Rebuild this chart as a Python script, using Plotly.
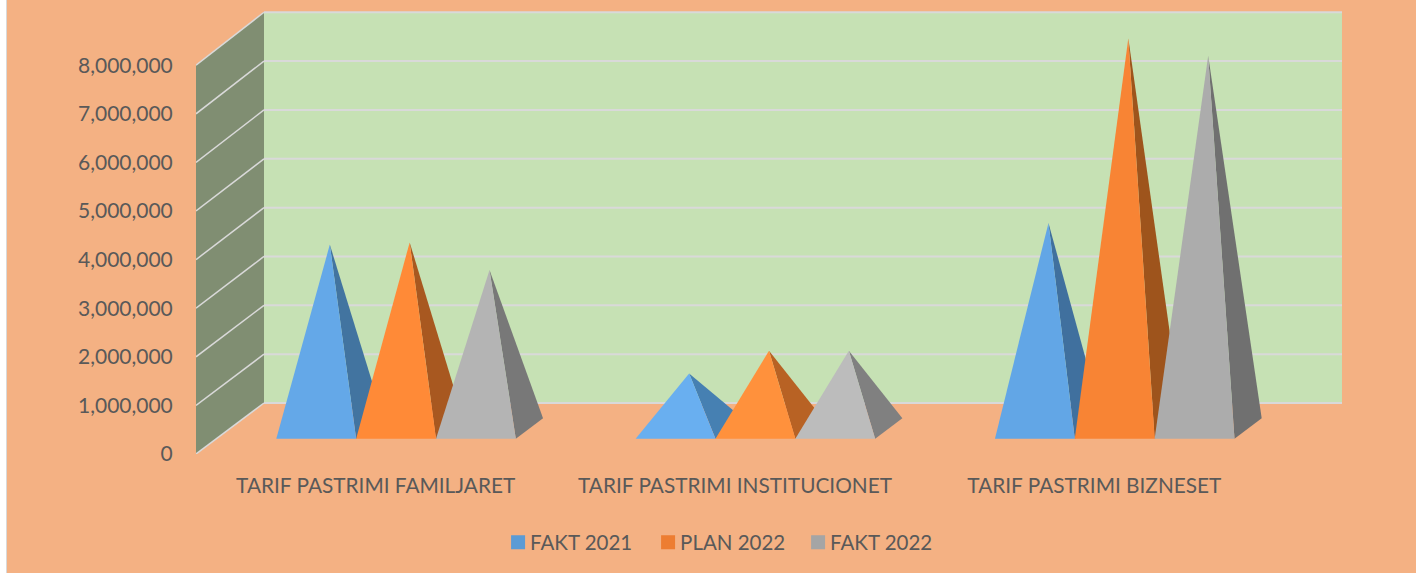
import plotly.graph_objects as go

categories = ["TARIF PASTRIMI FAMILJARET", "TARIF PASTRIMI INSTITUCIONET", "TARIF PASTRIMI BIZNESET"]
fakt_2021 = [3775000, 1130000, 4220000]
plan_2022 = [3820000, 1595000, 8010000]
fakt_2022 = [3255000, 1595000, 7650000]
series_names = ["FAKT 2021", "PLAN 2022", "FAKT 2022"]
y_ticks = [0, 1000000, 2000000, 3000000, 4000000, 5000000, 6000000, 7000000, 8000000]

# styles: one shade per category, because the lit faces differ a little
front_colors = [
    ["rgb(100,168,232)", "rgb(105,175,240)", "rgb(98,166,230)"],
    ["rgb(255,138,55)", "rgb(255,145,60)", "rgb(248,132,52)"],
    ["rgb(180,180,180)", "rgb(188,188,188)", "rgb(172,172,172)"],
]
side_colors = [
    ["rgb(66,116,160)", "rgb(70,128,178)", "rgb(64,112,158)"],
    ["rgb(168,88,32)", "rgb(184,98,36)", "rgb(158,84,28)"],
    ["rgb(120,120,120)", "rgb(128,128,128)", "rgb(112,112,112)"],
]
legend_colors = ["rgb(91,155,213)", "rgb(237,125,49)", "rgb(165,165,165)"]
BG = "rgb(244,177,131)"
WALL_BACK = "rgb(198,225,180)"
WALL_SIDE = "rgb(128,142,114)"
GRID = "rgb(217,217,217)"
TEXT = "rgb(89,89,89)"
FONT = "Lato"

W, H = 1416, 573
ML, MR, MT, MB = 196, 74, 10, 119
PW, PH = W - ML - MR, H - MT - MB
PX_PER_CAT = 359.33
PX_PER_VAL = 48.6 / 1e6
DEPTH_X = 68 / PX_PER_CAT          # category units for full floor depth
DEPTH_Y = 51 / PX_PER_VAL          # value units for full floor depth
DEPTH_SCALE = 0.005                # slight perspective growth towards the back wall
BAR_W = 1 / 4.5
VMAX = 8000000


def proj(x, v, d):
    return x + d * DEPTH_X, v * (1 + d * DEPTH_SCALE) + d * DEPTH_Y


def poly(points):
    xs, ys = zip(*[proj(*p) for p in points])
    return list(xs) + [xs[0]], list(ys) + [ys[0]]


fig = go.Figure()


def face(points, color):
    xs, ys = poly(points)
    fig.add_trace(go.Scatter(x=xs, y=ys, mode="lines", fill="toself", fillcolor=color,
                             line=dict(width=0, color=color), hoverinfo="skip", showlegend=False))


def rule(p0, p1, width=2):
    xs, ys = zip(proj(*p0), proj(*p1))
    fig.add_trace(go.Scatter(x=list(xs), y=list(ys), mode="lines", line=dict(color=GRID, width=width),
                             hoverinfo="skip", showlegend=False))


x_end = len(categories)
face([(0, 0, 1), (x_end, 0, 1), (x_end, VMAX, 1), (0, VMAX, 1)], WALL_BACK)
face([(0, 0, 0), (0, 0, 1), (0, VMAX, 1), (0, VMAX, 0)], WALL_SIDE)
for v in y_ticks:
    rule((0, v, 0), (0, v, 1), 1.5)
    rule((0, v, 1), (x_end, v, 1), 2)

all_series = [fakt_2021, plan_2022, fakt_2022]
for c in range(len(categories)):
    for s, values in enumerate(all_series):
        left = c + 0.5 + (s - 1.5) * BAR_W
        right = left + BAR_W
        mid = left + BAR_W / 2
        apex = (mid, values[c], 0.5)
        face([(right, 0, 0.3), (right, 0, 0.7), apex], side_colors[s][c])
        face([(left, 0, 0.3), (right, 0, 0.3), apex], front_colors[s][c])

for name, color in zip(series_names, legend_colors):
    fig.add_trace(go.Scatter(x=[None], y=[None], mode="markers", name=name,
                             marker=dict(symbol="square", size=14, color=color)))

fig.update_layout(
    width=W, height=H,
    margin=dict(l=ML, r=MR, t=MT, b=MB, pad=0),
    paper_bgcolor=BG, plot_bgcolor="rgba(0,0,0,0)",
    font=dict(family=FONT, color=TEXT, size=21),
    xaxis=dict(range=[0, PW / PX_PER_CAT], tickmode="array",
               tickvals=[i + 0.5 for i in range(len(categories))], ticktext=categories,
               showgrid=False, zeroline=False, showline=False,
               ticks="outside", ticklen=13, tickcolor="rgba(0,0,0,0)",
               tickangle=0, tickfont=dict(size=20.8)),
    yaxis=dict(range=[0, PH / PX_PER_VAL], tickmode="array", tickvals=y_ticks,
               tickformat=",d", showgrid=False, zeroline=False, showline=False,
               ticks="outside", ticklen=18, tickcolor="rgba(0,0,0,0)", tickfont=dict(size=21)),
    legend=dict(orientation="h", x=0.505, xref="container", xanchor="center", y=0.0535, yref="container",
                yanchor="middle", font=dict(size=20.5), itemsizing="trace",
                entrywidth=105, entrywidthmode="pixels",
                bgcolor="rgba(0,0,0,0)", traceorder="normal"),
    shapes=[
        dict(type="rect", xref="paper", yref="paper", x0=(0 - ML) / PW, x1=(6 - ML) / PW,
             y0=-MB / PH, y1=(PH + MT) / PH, fillcolor="white", line=dict(width=0), layer="below"),
        dict(type="rect", xref="paper", yref="paper", x0=(6 - ML) / PW, x1=(7 - ML) / PW,
             y0=-MB / PH, y1=(PH + MT) / PH, fillcolor=GRID, line=dict(width=0), layer="below"),
    ],
)

fig.write_html("out.html", config=dict(displayModeBar=False),
               post_script="document.body.style.margin='0';document.body.style.overflow='hidden';"
                           "document.querySelectorAll('.legendsymbols').forEach(function(e){e.setAttribute('transform','translate(8,0)');});")
